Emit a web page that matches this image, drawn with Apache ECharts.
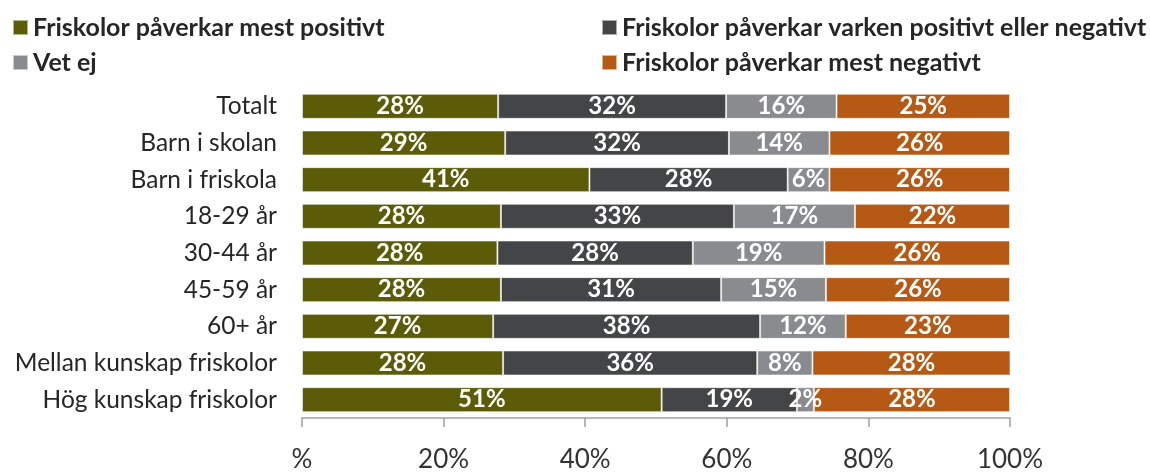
<!DOCTYPE html>
<html>
<head>
<meta charset="utf-8">
<script src="https://cdn.jsdelivr.net/npm/echarts@6/dist/echarts.min.js"></script>
<style>
    html, body { margin: 0; padding: 0; background: #fff; }
    .chart { width: 1150px; height: 473px; }
</style>
</head>
<body>
<div class="chart"></div>
<script>
// kategorier (uppifrån och ned)
var categories = ['Totalt', 'Barn i skolan', 'Barn i friskola', '18-29 år', '30-44 år',
    '45-59 år', '60+ år', 'Mellan kunskap friskolor', 'Hög kunskap friskolor'];

// andelar i procent
var positivt = [27.7, 28.7, 40.6, 28.1, 27.6, 28.1, 27.0, 28.4, 50.8];
var varken   = [32.2, 31.6, 28.0, 32.9, 27.6, 31.1, 37.7, 35.9, 19.1];
var vetEj    = [15.6, 14.2, 5.9, 17.1, 18.6, 14.8, 12.1, 7.8, 2.4];
var negativt = [24.5, 25.5, 25.5, 21.9, 26.2, 26.0, 23.2, 28.0, 27.7];

var seriesNames = ['Friskolor påverkar mest positivt', 'Friskolor påverkar varken positivt eller negativt',
    'Vet ej', 'Friskolor påverkar mest negativt'];
var colors = ['#5c5c08', '#444547', '#898b8e', '#b65915'];

// x-axelns etiketter
var tickLabels = { 0: '%', 20: '20%', 40: '40%', 60: '60%', 80: '80%', 100: '100%' };

(function() {
    var myChart = echarts.init(document.querySelector('.chart'));
    var font = 'Lato, "Open Sans", sans-serif';

    function legendAt(name, left, top) {
        return {
            data: [name],
            left: left,
            top: top,
            itemWidth: 15,
            itemHeight: 15,
            icon: 'rect',
            padding: 0,
            textStyle: { fontFamily: font, fontSize: 25, fontWeight: 'bold', color: '#262626' }
        };
    }

    var allData = [positivt, varken, vetEj, negativt];
    var series = [];
    for (var i = 0; i < allData.length; i++) {
        series.push({
            name: seriesNames[i],
            type: 'bar',
            stack: 'total',
            barWidth: 25,
            data: allData[i],
            itemStyle: {
                color: colors[i],
                borderColor: 'rgba(255,255,255,0.55)',
                borderWidth: 1
            },
            label: {
                show: true,
                position: 'inside',
                color: '#fff',
                fontFamily: font,
                fontSize: 24,
                fontWeight: 'bold',
                formatter: function(p) { return Math.round(p.value) + '%'; }
            }
        });
    }

    var option = {
        animation: false,
        legend: [
            legendAt(seriesNames[0], 12, 15),
            legendAt(seriesNames[1], 601, 15),
            legendAt(seriesNames[2], 12, 50),
            legendAt(seriesNames[3], 601, 50)
        ],
        grid: { left: 302, right: 140, top: 88, bottom: 51 },
        xAxis: {
            type: 'value',
            min: 0,
            max: 100,
            interval: 20,
            axisLine: { show: true, lineStyle: { color: '#a0a0a0', width: 1.5 } },
            axisTick: { show: true, length: 9, lineStyle: { color: '#a0a0a0', width: 1.5 } },
            splitLine: { show: false },
            axisLabel: {
                margin: 29,
                fontFamily: font,
                fontSize: 26,
                color: '#333',
                formatter: function(v) { return tickLabels[v]; }
            }
        },
        yAxis: {
            type: 'category',
            inverse: true,
            data: categories,
            axisLine: { show: false },
            axisTick: { show: false },
            axisLabel: { margin: 25, fontFamily: font, fontSize: 24.5, color: '#262626' }
        },
        series: series
    };
    myChart.setOption(option);
})();
</script>
</body>
</html>
